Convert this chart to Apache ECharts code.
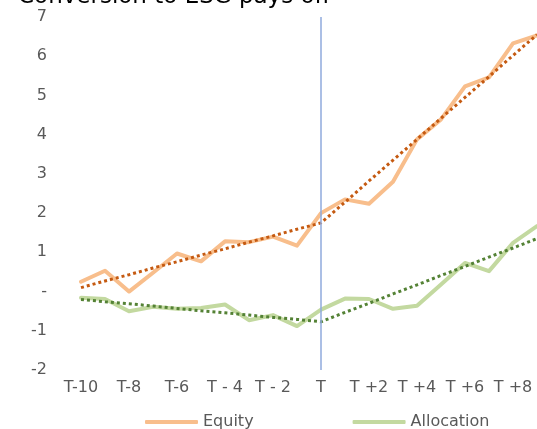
<!DOCTYPE html>
<html>
<head>
<meta charset="utf-8">
<script src="https://cdn.jsdelivr.net/npm/echarts@6/dist/echarts.min.js"></script>
<style>
html,body{margin:0;padding:0;background:#fff;}
#chart{width:537px;height:429px;}
</style>
</head>
<body>
<div id="chart"></div>
<script>
var titleText = 'Conversion to ESG pays off';
var categories = ['T-10','T-9','T-8','T-7','T-6','T-5','T - 4','T - 3','T - 2','T - 1','T','T +1','T +2','T +3','T +4','T +5','T +6','T +7','T +8','T +9'];
var equity = [0.25, 0.53, 0.0, 0.48, 0.97, 0.77, 1.28, 1.26, 1.40, 1.17, 2.0, 2.35, 2.24, 2.80, 3.88, 4.39, 5.23, 5.46, 6.33, 6.53];
var equityTrend = [0.10, 0.27, 0.43, 0.60, 0.76, 0.93, 1.09, 1.26, 1.42, 1.59, 1.75, 2.28, 2.82, 3.35, 3.88, 4.42, 4.95, 5.48, 6.02, 6.55];
var allocation = [-0.16, -0.19, -0.50, -0.39, -0.44, -0.42, -0.33, -0.73, -0.60, -0.88, -0.46, -0.18, -0.19, -0.44, -0.36, 0.18, 0.73, 0.52, 1.24, 1.67];
var allocationTrend = [-0.20, -0.26, -0.31, -0.37, -0.43, -0.49, -0.54, -0.60, -0.66, -0.71, -0.77, -0.53, -0.30, -0.06, 0.17, 0.41, 0.64, 0.88, 1.11, 1.35];
var eventCategory = 'T';

var chart = echarts.init(document.getElementById('chart'));
var font = 'DejaVu Sans';
chart.setOption({
  animation: false,
  backgroundColor: '#ffffff',
  title: {
    text: titleText,
    left: 13,
    top: -19,
    textStyle: {fontFamily: font, fontSize: 23, fontWeight: 'normal', color: '#000000'}
  },
  legend: {
    data: ['Equity', 'Allocation'],
    left: 140,
    top: 409,
    itemWidth: 53,
    itemHeight: 4,
    itemGap: 99,
    icon: 'roundRect',
    textStyle: {fontFamily: font, fontSize: 16, color: '#595959'}
  },
  grid: {left: 81, right: 0, top: 17, bottom: 59, containLabel: false},
  xAxis: {
    type: 'category',
    data: categories,
    boundaryGap: false,
    axisLine: {show: false},
    axisTick: {show: false},
    splitLine: {show: false},
    axisLabel: {interval: 1, margin: 10, fontFamily: font, fontSize: 16, color: '#595959'}
  },
  yAxis: {
    type: 'value',
    min: -2,
    max: 7,
    interval: 1,
    axisLine: {show: false},
    axisTick: {show: false},
    splitLine: {show: false},
    axisLabel: {
      margin: 34,
      fontFamily: font, fontSize: 16, color: '#595959',
      formatter: function (v) { return v === 0 ? '-' : String(v); }
    }
  },
  series: [
    {
      name: 'Equity', type: 'line', data: equity, symbol: 'none',
      lineStyle: {color: '#F8BE8C', width: 4, cap: 'round', join: 'round'},
      itemStyle: {color: '#F8BE8C'},
      z: 2,
      markLine: {
        silent: true, symbol: 'none', label: {show: false},
        lineStyle: {color: '#8FAADC', width: 1.5, type: 'solid'},
        data: [{xAxis: eventCategory}]
      }
    },
    {
      name: 'Allocation', type: 'line', data: allocation, symbol: 'none',
      lineStyle: {color: '#C3D9A0', width: 4, cap: 'round', join: 'round'},
      itemStyle: {color: '#C3D9A0'},
      z: 2
    },
    {
      name: 'Equity trend', type: 'line', data: equityTrend, symbol: 'none',
      lineStyle: {color: '#C55A11', width: 3, type: [3, 3]},
      z: 3
    },
    {
      name: 'Allocation trend', type: 'line', data: allocationTrend, symbol: 'none',
      lineStyle: {color: '#548235', width: 3, type: [3, 3]},
      z: 3
    }
  ]
});
</script>
</body>
</html>
